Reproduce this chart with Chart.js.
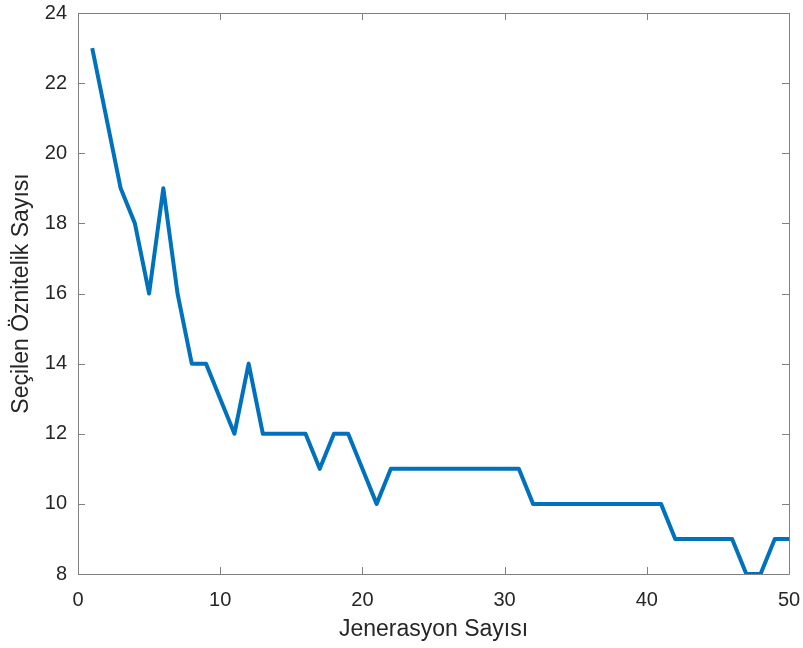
<!DOCTYPE html>
<html>
<head>
<meta charset="utf-8">
<script src="https://cdn.jsdelivr.net/npm/chart.js@4/dist/chart.umd.min.js"></script>
<style>
  html, body { margin: 0; padding: 0; background: #fff; }
  #wrap { width: 803px; height: 648px; }
</style>
</head>
<body>
<div id="wrap"><canvas id="myChart" width="803" height="648"></canvas></div>
<script>
// Données : nombre d'attributs sélectionnés par génération
const generations = [1, 2, 3, 4, 5, 6, 7, 8, 9, 10,
    11, 12, 13, 14, 15, 16, 17, 18, 19, 20,
    21, 22, 23, 24, 25, 26, 27, 28, 29, 30,
    31, 32, 33, 34, 35, 36, 37, 38, 39, 40,
    41, 42, 43, 44, 45, 46, 47, 48, 49, 50];
const selectedCounts = [23, 21, 19, 18, 16, 19, 16, 14, 14, 13,
    12, 14, 12, 12, 12, 12, 11, 12, 12, 11,
    10, 11, 11, 11, 11, 11, 11, 11, 11, 11,
    11, 10, 10, 10, 10, 10, 10, 10, 10, 10,
    10, 9, 9, 9, 9, 9, 8, 8, 9, 9];

// Ticks des axes
const xTicks = [0, 10, 20, 30, 40, 50];
const yTicks = [8, 10, 12, 14, 16, 18, 20, 22, 24];

const xTitle = 'Jenerasyon Sayısı';
const yTitle = 'Seçilen Öznitelik Sayısı';

const fontFamily = '"Liberation Sans", Arial, Helvetica, sans-serif';
const textColor = '#262626';
const axisColor = '#808080';

// Cadre + petites graduations vers l'intérieur (style MATLAB)
const boxPlugin = {
    id: 'boxPlugin',
    afterDraw(chart) {
        const { ctx, chartArea: a, scales } = chart;
        const len = 7;
        ctx.save();
        ctx.lineWidth = 1;
        ctx.strokeStyle = axisColor;
        ctx.beginPath();
        ctx.rect(a.left + 0.5, a.top + 0.5, a.right - a.left, a.bottom - a.top);
        ctx.stroke();
        ctx.beginPath();
        xTicks.forEach(v => {
            const px = Math.round(scales.x.getPixelForValue(v)) + 0.5;
            ctx.moveTo(px, a.bottom);
            ctx.lineTo(px, a.bottom - len);
            ctx.moveTo(px, a.top);
            ctx.lineTo(px, a.top + len);
        });
        yTicks.forEach(v => {
            const py = Math.round(scales.y.getPixelForValue(v)) + 0.5;
            ctx.moveTo(a.left, py);
            ctx.lineTo(a.left + len, py);
            ctx.moveTo(a.right, py);
            ctx.lineTo(a.right - len, py);
        });
        ctx.stroke();
        ctx.restore();
    }
};

const ctx = document.getElementById('myChart').getContext('2d');
const myChart = new Chart(ctx, {
    type: 'line',
    data: {
        datasets: [{
            data: generations.map((g, i) => ({ x: g, y: selectedCounts[i] })),
            borderColor: '#0072BD',
            borderWidth: 4,
            pointRadius: 0,
            borderJoinStyle: 'round',
            borderCapStyle: 'butt',
            tension: 0,
            fill: false
        }]
    },
    options: {
        responsive: false,
        animation: false,
        layout: { padding: { left: 0, right: 14, top: 13, bottom: 0 } },
        plugins: {
            legend: { display: false },
            tooltip: { enabled: false }
        },
        scales: {
            x: {
                type: 'linear',
                min: 0,
                max: 50,
                afterFit(scale) {
                    scale.height = 74;
                    scale.paddingLeft = 0;
                    scale.paddingRight = 0;
                },
                afterBuildTicks(scale) { scale.ticks = xTicks.map(v => ({ value: v })); },
                grid: { display: false, drawTicks: false },
                border: { display: false },
                ticks: {
                    padding: 14,
                    color: textColor,
                    maxRotation: 0,
                    font: { family: fontFamily, size: 20 }
                },
                title: {
                    display: true,
                    text: xTitle,
                    color: textColor,
                    padding: { top: 0, bottom: 5 },
                    font: { family: fontFamily, size: 23 }
                }
            },
            y: {
                type: 'linear',
                min: 8,
                max: 24,
                afterFit(scale) {
                    scale.width = 78;
                    scale.paddingTop = 0;
                    scale.paddingBottom = 0;
                },
                afterBuildTicks(scale) { scale.ticks = yTicks.map(v => ({ value: v })); },
                grid: { display: false, drawTicks: false },
                border: { display: false },
                ticks: {
                    padding: 11,
                    color: textColor,
                    font: { family: fontFamily, size: 20 }
                },
                title: {
                    display: true,
                    text: yTitle,
                    color: textColor,
                    padding: { top: 8, bottom: 0 },
                    font: { family: fontFamily, size: 23 }
                }
            }
        }
    },
    plugins: [boxPlugin]
});
</script>
</body>
</html>
